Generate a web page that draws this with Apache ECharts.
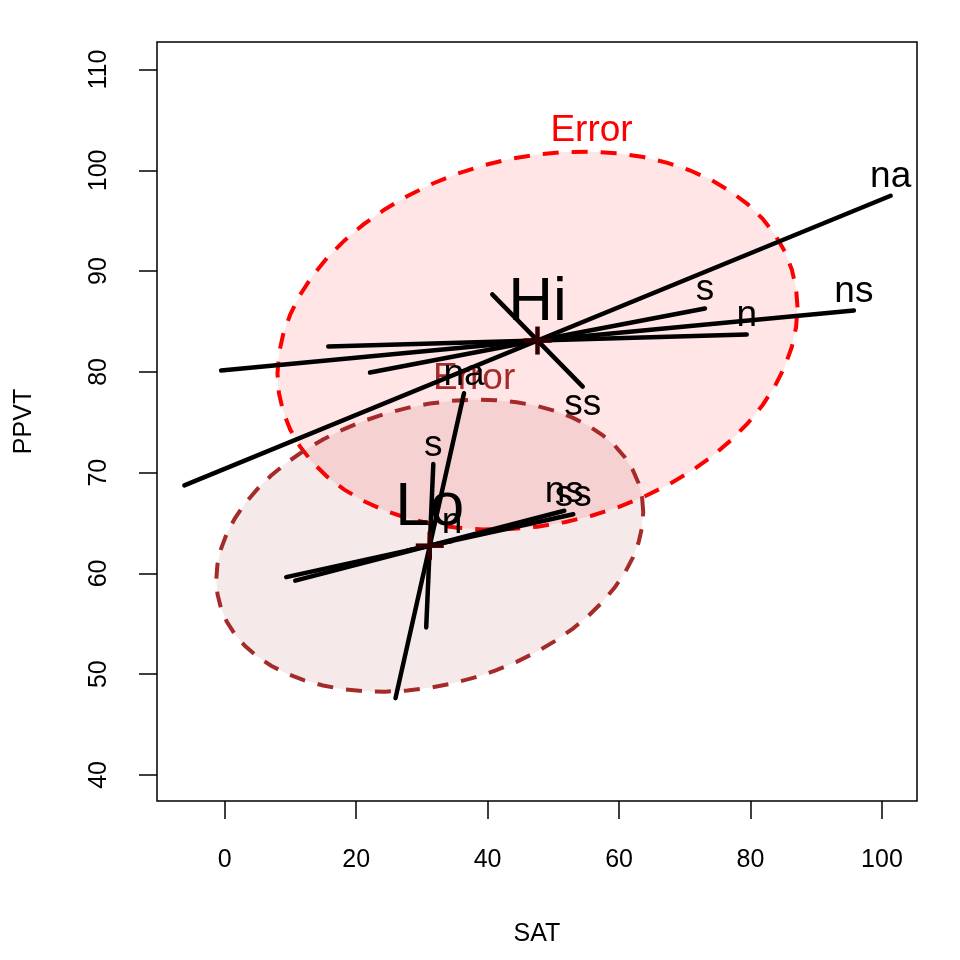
<!DOCTYPE html>
<html><head><meta charset="utf-8">
<script src="https://cdn.jsdelivr.net/npm/echarts@6/dist/echarts.min.js"></script>
<style>html,body{margin:0;padding:0;background:#fff}#c{width:960px;height:960px}</style>
</head><body><div id="c"></div>
<script>
// ---- data ----
const xTicks = [0, 20, 40, 60, 80, 100];
const yTicks = [40, 50, 60, 70, 80, 90, 100, 110];
const groups = ['Hi', 'Lo'];
const groupCenterX = [47.59, 31.20];   // SAT means
const groupCenterY = [83.11, 62.75];   // PPVT means
const errorSdX = [39.56, 32.48];
const errorSdY = [18.76, 14.49];
const errorCorr = [0.175, 0.23];
const predictors = ['n', 's', 'ns', 'na', 'ss'];
const hiEndX = [79.42, 73.07, 95.73, 101.32, 54.47];
const hiEndY = [83.70, 86.29, 86.09, 97.48, 78.53];
const loEndX = [34.58, 31.74, 51.67, 36.41, 53.04];
const loEndY = [63.22, 70.86, 66.22, 77.88, 65.87];

// ---- style ----
const FONT = 'Liberation Sans, Arial, Helvetica, sans-serif';
const ellColors = ['#FF0000', '#A52A2A'];
const ellFills = ['rgba(255,0,0,0.1)', 'rgba(165,42,42,0.1)'];
const endX = [hiEndX, loEndX];
const endY = [hiEndY, loEndY];

function ellipsePoints(g) {
  const pts = [];
  const seg = 60;
  const r = errorCorr[g], q = Math.sqrt(1 - r * r);
  for (let i = 0; i <= seg; i++) {
    const t = 2 * Math.PI * i / seg;
    pts.push([groupCenterX[g] + errorSdX[g] * Math.cos(t),
              groupCenterY[g] + errorSdY[g] * (r * Math.cos(t) + q * Math.sin(t))]);
  }
  return pts;
}

const ellData = groups.map((g, i) => [groupCenterX[i], groupCenterY[i], i]);
const segData = [];
groups.forEach((g, gi) => {
  predictors.forEach((p, pi) => {
    segData.push([groupCenterX[gi], groupCenterY[gi], endX[gi][pi], endY[gi][pi], gi, pi]);
  });
});

const chart = echarts.init(document.getElementById('c'), null, {renderer: 'canvas'});
chart.setOption({
  animation: false,
  backgroundColor: '#ffffff',
  grid: {left: 157, top: 42, width: 760, height: 759, show: true,
         borderColor: '#000', borderWidth: 1.5, backgroundColor: 'transparent'},
  xAxis: {
    type: 'value', min: -10.3, max: 105.33,
    axisLine: {show: false, onZero: false}, splitLine: {show: false},
    axisTick: {show: true, customValues: xTicks, length: 18, lineStyle: {color: '#000', width: 1.5}},
    axisLabel: {customValues: xTicks, fontSize: 25, color: '#000', margin: 47, fontFamily: FONT},
    name: 'SAT', nameLocation: 'middle', nameGap: 121,
    nameTextStyle: {fontSize: 25, color: '#000', fontFamily: FONT}
  },
  yAxis: {
    type: 'value', min: 37.41, max: 112.74,
    axisLine: {show: false, onZero: false}, splitLine: {show: false},
    axisTick: {show: true, customValues: yTicks, length: 18, lineStyle: {color: '#000', width: 1.5}},
    axisLabel: {customValues: yTicks, fontSize: 25, color: '#000', margin: 45, rotate: 90, fontFamily: FONT},
    name: 'PPVT', nameLocation: 'middle', nameGap: 120, nameRotate: 90,
    nameTextStyle: {fontSize: 25, color: '#000', fontFamily: FONT}
  },
  series: [
    {
      type: 'custom', z: 2, data: ellData, encode: {x: 0, y: 1},
      renderItem: function (params, api) {
        const g = api.value(2);
        const pts = ellipsePoints(g).map(p => api.coord(p));
        let top = 0;
        for (let i = 0; i < pts.length; i++) if (pts[i][1] < pts[top][1]) top = i;
        return {type: 'group', children: [
          {type: 'polygon', shape: {points: pts},
           style: {fill: ellFills[g], stroke: ellColors[g], lineWidth: 4, lineDash: [16, 13], lineCap: 'butt'}},
          {type: 'text', x: pts[top][0], y: pts[top][1] - 2,
           style: {text: 'Error', fill: ellColors[g], fontSize: 37, fontFamily: FONT,
                   align: 'center', verticalAlign: 'bottom'}}
        ]};
      }
    },
    {
      type: 'custom', z: 3, data: segData, encode: {x: 0, y: 1},
      renderItem: function (params, api) {
        const cx = api.value(0), cy = api.value(1), ex = api.value(2), ey = api.value(3);
        const pi = api.value(5);
        const e = api.coord([ex, ey]);
        const o = api.coord([2 * cx - ex, 2 * cy - ey]);
        const above = ey >= cy;
        return {type: 'group', children: [
          {type: 'line', shape: {x1: o[0], y1: o[1], x2: e[0], y2: e[1]},
           style: {stroke: '#000', lineWidth: 4.5, lineCap: 'round'}},
          {type: 'text', x: e[0], y: e[1],
           style: {text: predictors[pi], fill: '#000', fontSize: 37, fontFamily: FONT,
                   align: 'center', verticalAlign: above ? 'bottom' : 'top'}}
        ]};
      }
    },
    {
      type: 'custom', z: 4, data: ellData, encode: {x: 0, y: 1},
      renderItem: function (params, api) {
        const g = api.value(2);
        const c = api.coord([api.value(0), api.value(1)]);
        const h = 14;
        return {type: 'group', children: [
          {type: 'line', shape: {x1: c[0] - h, y1: c[1], x2: c[0] + h, y2: c[1]},
           style: {stroke: '#300000', lineWidth: 4.5}},
          {type: 'line', shape: {x1: c[0], y1: c[1] - h, x2: c[0], y2: c[1] + h},
           style: {stroke: '#300000', lineWidth: 4.5}},
          {type: 'text', x: c[0], y: c[1] - 7,
           style: {text: groups[g], fill: '#000', fontSize: 62, fontFamily: FONT,
                   align: 'center', verticalAlign: 'bottom'}}
        ]};
      }
    }
  ]
});
</script></body></html>
